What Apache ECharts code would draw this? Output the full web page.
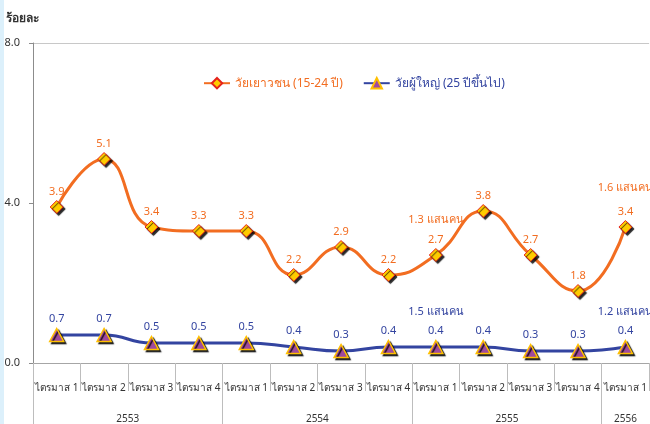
<!DOCTYPE html>
<html>
<head>
<meta charset="utf-8">
<script src="https://cdn.jsdelivr.net/npm/echarts@6/dist/echarts.min.js"></script>
<style>
html,body{margin:0;padding:0;background:#fff;}
#chart{width:650px;height:424px;}
</style>
</head>
<body>
<div id="chart"></div>
<script>
const quarters = ['ไตรมาส 1','ไตรมาส 2','ไตรมาส 3','ไตรมาส 4','ไตรมาส 1','ไตรมาส 2','ไตรมาส 3','ไตรมาส 4','ไตรมาส 1','ไตรมาส 2','ไตรมาส 3','ไตรมาส 4','ไตรมาส 1'];
const years = ['2553','2554','2555','2556'];
const yearCenters = [2, 6, 10, 12.5];
const yearBounds = [0, 4, 8, 12];
const youthName = 'วัยเยาวชน (15-24 ปี)';
const adultName = 'วัยผู้ใหญ่ (25 ปีขึ้นไป)';
const youth = [3.9, 5.1, 3.4, 3.3, 3.3, 2.2, 2.9, 2.2, 2.7, 3.8, 2.7, 1.8, 3.4];
const adult = [0.7, 0.7, 0.5, 0.5, 0.5, 0.4, 0.3, 0.4, 0.4, 0.4, 0.3, 0.3, 0.4];
const youthNotes = [{coord:[8, 3.57], value:'1.3 แสนคน'}, {coord:[12, 4.38], value:'1.6 แสนคน'}];
const adultNotes = [{coord:[8, 1.27], value:'1.5 แสนคน'}, {coord:[12, 1.27], value:'1.2 แสนคน'}];
const yTicks = [0, 4, 8];

const ORANGE = '#f26d21';
const BLUE = '#3344a0';
const FONT = 'Tahoma, "Noto Sans", sans-serif';

const chart = echarts.init(document.getElementById('chart'), null, {renderer:'canvas'});
chart.setOption({
  animation: false,
  backgroundColor: '#fff',
  textStyle: {fontFamily: FONT},
  graphic: [
    {type:'rect', left:0, top:0, shape:{width:4, height:424}, style:{fill:'#dcf0fb'}},
    {type:'text', left:6, top:13, style:{text:'ร้อยละ', fill:'#333', font:'bold 12px ' + FONT}}
  ],
  legend: {
    left: 198, top: 72,
    itemWidth: 26, itemHeight: 13, itemGap: 20,
    data: [
      {name: youthName, textStyle:{color: ORANGE}},
      {name: adultName, textStyle:{color: BLUE}}
    ],
    textStyle: {fontSize: 12, fontFamily: FONT}
  },
  grid: {left: 33, right: -1, top: 43, bottom: 60, containLabel: false},
  xAxis: [
    {
      type: 'category', data: quarters, boundaryGap: true, position: 'bottom',
      axisLine: {show: true, lineStyle: {color: '#a6a6a6', width: 1}},
      axisTick: {show: true, interval: 0, length: 28, lineStyle: {color: '#bdbdbd'}},
      axisLabel: {interval: 0, color: '#333', fontSize: 10, margin: 20, fontFamily: FONT}
    },
    {
      type: 'value', min: 0, max: 13, position: 'bottom',
      axisLine: {show: false},
      splitLine: {show: false},
      axisTick: {show: true, length: 61, customValues: yearBounds, lineStyle: {color: '#bdbdbd'}},
      axisLabel: {show: true, customValues: yearCenters, color: '#333', fontSize: 10, margin: 51,
        formatter: function (v) { return years[yearCenters.indexOf(v)]; }}
    }
  ],
  yAxis: [
    {
      type: 'value', min: 0, max: 8, interval: 4,
      axisLine: {show: true, lineStyle: {color: '#8c8c8c', width: 1}},
      axisTick: {show: true, length: 4, lineStyle: {color: '#8c8c8c'}},
      splitLine: {show: false},
      axisLabel: {color: '#333', fontSize: 11, margin: 13, fontFamily: FONT,
        formatter: function (v) { return yTicks.indexOf(v) >= 0 ? v.toFixed(1) : ''; }}
    },
    {
      type: 'value', min: 0, max: 8, interval: 8, position: 'left',
      axisLine: {show: false}, axisTick: {show: false}, axisLabel: {show: false},
      splitLine: {show: true, lineStyle: {color: '#c8c8c8', width: 1}}
    }
  ],
  series: [
    {
      name: youthName, type: 'line', data: youth, smooth: 0.5,
      symbol: 'diamond', symbolSize: 13,
      lineStyle: {color: ORANGE, width: 3},
      itemStyle: {color: '#ffcc00', borderColor: '#e5221b', borderWidth: 1,
        shadowColor: 'rgba(0,0,0,0.85)', shadowOffsetX: 2, shadowOffsetY: 2, shadowBlur: 1},
      label: {show: true, position: 'top', distance: 3, color: ORANGE, fontSize: 11,
        formatter: function (p) { return p.value.toFixed(1); }},
      markPoint: {
        symbol: 'circle', symbolSize: 0,
        label: {show: true, position: 'inside', color: ORANGE, fontSize: 11, formatter: '{c}'},
        data: youthNotes
      },
      z: 3
    },
    {
      name: adultName, type: 'line', data: adult, smooth: 0.5,
      symbol: 'triangle', symbolSize: [14, 13],
      lineStyle: {color: BLUE, width: 3},
      itemStyle: {color: '#a04a9e', borderColor: '#ffc000', borderWidth: 1.5,
        shadowColor: 'rgba(0,0,0,0.85)', shadowOffsetX: 2, shadowOffsetY: 2, shadowBlur: 1},
      label: {show: true, position: 'top', distance: 3, color: BLUE, fontSize: 11,
        formatter: function (p) { return p.value.toFixed(1); }},
      markPoint: {
        symbol: 'circle', symbolSize: 0,
        label: {show: true, position: 'inside', color: BLUE, fontSize: 11, formatter: '{c}'},
        data: adultNotes
      },
      z: 2
    }
  ]
});
</script>
</body>
</html>
